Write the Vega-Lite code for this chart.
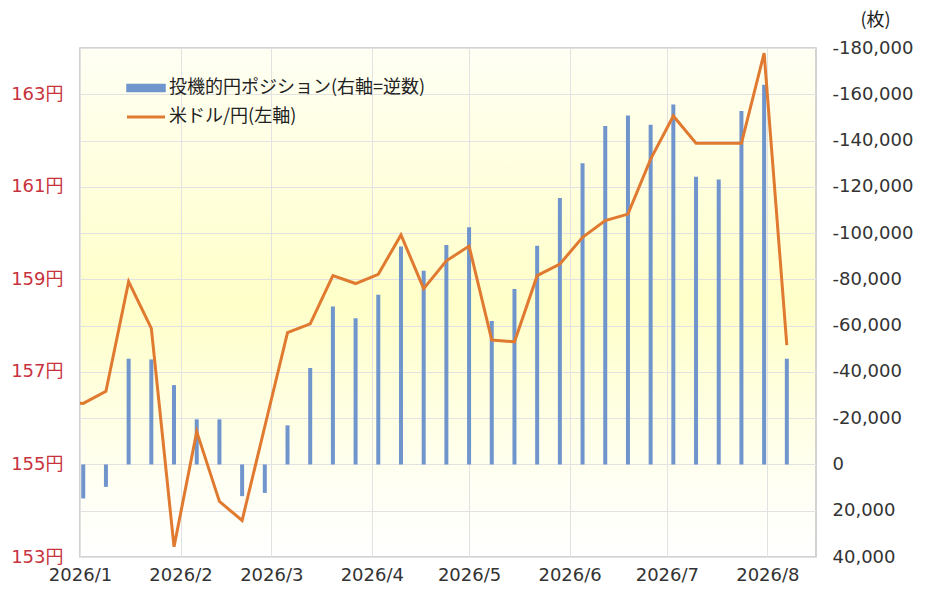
{
  "$schema": "https://vega.github.io/schema/vega-lite/v6.json",
  "autosize": {"type": "none"},
  "width": 736,
  "height": 509,
  "padding": {"left": 80, "top": 48, "right": 112, "bottom": 45},
  "background": "#ffffff",
  "config": {
    "font": "Noto Sans CJK JP",
    "view": {
      "stroke": "#C4C4C4",
      "strokeWidth": 1.5,
      "fill": {
        "gradient": "linear",
        "x1": 0, "y1": 0, "x2": 0, "y2": 1,
        "stops": [
          {"offset": 0, "color": "#FFFFF4"},
          {"offset": 0.5, "color": "#FFFFC9"},
          {"offset": 0.85, "color": "#FFFFF3"},
          {"offset": 1, "color": "#FFFFFF"}
        ]
      }
    },
    "axis": {
      "domain": false,
      "ticks": false,
      "labelFont": "DejaVu Sans, Noto Sans CJK JP",
      "labelFontSize": 18,
      "labelColor": "#333333",
      "gridColor": "#E2E2E2",
      "gridWidth": 1
    },
    "legend": {"labelFont": "Noto Sans CJK JP"}
  },
  "data": {
    "values": [
      {"date": "2025-12-26", "pos": null, "usd": 156.35},
      {"date": "2026-01-02", "pos": 14700, "usd": 156.32},
      {"date": "2026-01-09", "pos": 9700, "usd": 156.58},
      {"date": "2026-01-16", "pos": -45700, "usd": 158.95},
      {"date": "2026-01-23", "pos": -45400, "usd": 157.94},
      {"date": "2026-01-30", "pos": -34300, "usd": 153.22},
      {"date": "2026-02-06", "pos": -19500, "usd": 155.71},
      {"date": "2026-02-13", "pos": -19500, "usd": 154.2},
      {"date": "2026-02-20", "pos": 13700, "usd": 153.79},
      {"date": "2026-02-27", "pos": 12300, "usd": 155.82},
      {"date": "2026-03-06", "pos": -16900, "usd": 157.85},
      {"date": "2026-03-13", "pos": -41700, "usd": 158.04},
      {"date": "2026-03-20", "pos": -68300, "usd": 159.08},
      {"date": "2026-03-27", "pos": -63200, "usd": 158.91},
      {"date": "2026-04-03", "pos": -73400, "usd": 159.11},
      {"date": "2026-04-10", "pos": -94200, "usd": 159.96},
      {"date": "2026-04-17", "pos": -83700, "usd": 158.8},
      {"date": "2026-04-24", "pos": -94900, "usd": 159.4},
      {"date": "2026-05-01", "pos": -102500, "usd": 159.72},
      {"date": "2026-05-08", "pos": -62000, "usd": 157.69},
      {"date": "2026-05-15", "pos": -75800, "usd": 157.65},
      {"date": "2026-05-22", "pos": -94500, "usd": 159.08},
      {"date": "2026-05-29", "pos": -115200, "usd": 159.33},
      {"date": "2026-06-05", "pos": -130200, "usd": 159.91},
      {"date": "2026-06-12", "pos": -146300, "usd": 160.27},
      {"date": "2026-06-19", "pos": -150800, "usd": 160.41},
      {"date": "2026-06-26", "pos": -146800, "usd": 161.6},
      {"date": "2026-07-03", "pos": -155600, "usd": 162.53},
      {"date": "2026-07-10", "pos": -124400, "usd": 161.94},
      {"date": "2026-07-17", "pos": -123200, "usd": 161.94},
      {"date": "2026-07-24", "pos": -152800, "usd": 161.94},
      {"date": "2026-07-31", "pos": -164100, "usd": 163.89},
      {"date": "2026-08-07", "pos": -45700, "usd": 157.58}
    ]
  },
  "encoding": {
    "x": {
      "field": "date",
      "type": "temporal",
      "scale": {
        "padding": 0,
        "domain": [
          {"year": 2026, "month": 1, "date": 1},
          {"year": 2026, "month": 8, "date": 16}
        ]
      },
      "axis": {
        "title": null,
        "grid": true,
        "format": "%Y/%-m",
        "labelPadding": 9,
        "labelAlign": "center",
        "labelFlush": false,
        "values": [
          {"year": 2026, "month": 1, "date": 1},
          {"year": 2026, "month": 2, "date": 1},
          {"year": 2026, "month": 3, "date": 1},
          {"year": 2026, "month": 4, "date": 1},
          {"year": 2026, "month": 5, "date": 1},
          {"year": 2026, "month": 6, "date": 1},
          {"year": 2026, "month": 7, "date": 1},
          {"year": 2026, "month": 8, "date": 1}
        ]
      }
    }
  },
  "layer": [
    {
      "mark": {"type": "bar", "width": 4, "fill": "#7095CC"},
      "encoding": {
        "y": {
          "field": "pos",
          "type": "quantitative",
          "scale": {"domain": [-180000, 40000], "reverse": true, "nice": false, "zero": true, "padding": 0},
          "axis": {
            "orient": "right",
            "grid": true,
            "values": [-180000, -160000, -140000, -120000, -100000, -80000, -60000, -40000, -20000, 0, 20000, 40000],
            "labelExpr": "replace(format(datum.value, ','), '\u2212', '-')",
            "labelPadding": 16,
            "labelColor": "#333333",
            "title": "(枚)",
            "titleAngle": 0,
            "titleAlign": "center",
            "titleBaseline": "middle",
            "titleX": 59,
            "titleY": -28,
            "titleFontSize": 18,
            "titleFontWeight": "normal",
            "titleColor": "#222222",
            "titleFont": "Noto Sans CJK JP"
          }
        },
        "color": {
          "datum": "投機的円ポジション(右軸=逆数)",
          "type": "nominal",
          "scale": {
            "domain": ["投機的円ポジション(右軸=逆数)", "米ドル/円(左軸)"],
            "range": ["#7095CC", "#E07A30"]
          },
          "legend": {
            "title": null,
            "orient": "none",
            "legendX": 57,
            "legendY": 31,
            "padding": 0,
            "rowPadding": 11,
            "symbolSize": 400,
            "labelOffset": 14,
            "labelFontSize": 18,
            "labelColor": "#222222",
            "labelLimit": 400,
            "encode": {
              "symbols": {
                "update": {
                  "shape": {"signal": "datum.value == '米ドル/円(左軸)' ? 'M-1.9,0H1.9' : 'M-1.9,-0.35H1.9V0.35H-1.9Z'"},
                  "fill": {"signal": "datum.value == '米ドル/円(左軸)' ? 'transparent' : '#6A98D8'"},
                  "stroke": {"signal": "datum.value == '米ドル/円(左軸)' ? '#E07A30' : '#4A74BE'"},
                  "strokeWidth": {"signal": "datum.value == '米ドル/円(左軸)' ? 3 : 1.5"},
                  "opacity": {"value": 1}
                }
              }
            }
          }
        }
      }
    },
    {
      "mark": {"type": "line", "strokeWidth": 3, "clip": true, "strokeJoin": "miter"},
      "encoding": {
        "y": {
          "field": "usd",
          "type": "quantitative",
          "scale": {"domain": [153, 164], "nice": false, "zero": false},
          "axis": {
            "orient": "left",
            "grid": false,
            "values": [153, 155, 157, 159, 161, 163],
            "labelExpr": "datum.value + '円'",
            "labelColor": "#C8323C",
            "labelPadding": 17,
            "title": null
          }
        },
        "color": {"datum": "米ドル/円(左軸)", "type": "nominal"}
      }
    }
  ],
  "resolve": {"scale": {"y": "independent"}}
}
